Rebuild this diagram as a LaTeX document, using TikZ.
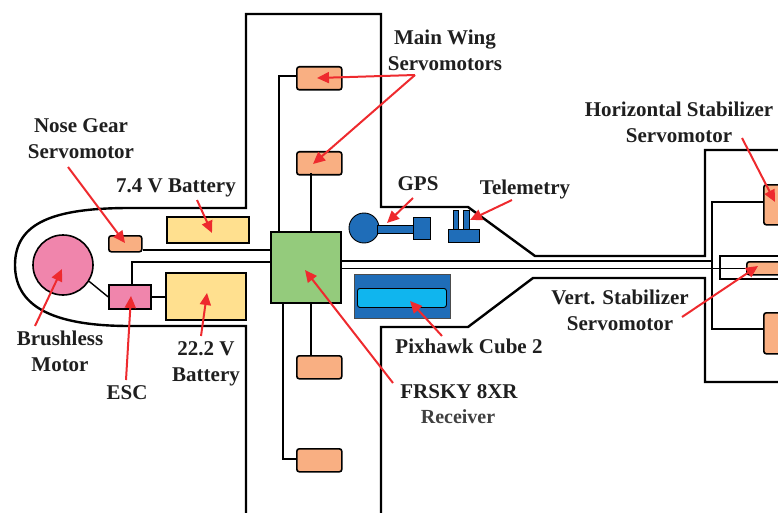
\documentclass[tikz,border=0pt]{standalone}
\usepackage{fontspec}
\setmainfont{Liberation Serif}
\usetikzlibrary{arrows.meta}
\definecolor{servo}{HTML}{F9AF82}
\definecolor{batt}{HTML}{FFE08F}
\definecolor{motor}{HTML}{F085AC}
\definecolor{board}{HTML}{94CB7C}
\definecolor{unit}{HTML}{1F6DB8}
\definecolor{cube}{HTML}{10B5EE}
\definecolor{pointer}{HTML}{EE2A2E}
\tikzset{
	box/.style={draw=black, line width=1.6pt, inner sep=0pt, anchor=north west},
	servobox/.style={box, fill=servo, rounded corners=2.5pt},
	bluebox/.style={box, fill=unit, line width=0.9pt},
	label/.style={font=\bfseries\fontsize{21}{26}\selectfont, align=center, text=black!88},
	wire/.style={line width=1.4pt},
	hull/.style={line width=2.4pt},
	pointerline/.style={draw=pointer, line width=2pt, -{Triangle[length=12pt, width=11pt]}}
}
\begin{document}
\begin{tikzpicture}[x=1pt, y=-1pt]
	\useasboundingbox (0, 0) rectangle (778, 513);
	\draw[hull] (246, 513) -- (246, 326) -- (130, 326) .. controls (60, 326) and (15, 310) .. (15, 265) .. controls (15, 222) and (55, 208) .. (130, 208) -- (246, 208) -- (246, 14) -- (381, 14) -- (381, 207) -- (468, 207) -- (535, 256) -- (705, 256) -- (705, 150) -- (778, 150);
	\draw[hull] (381, 513) -- (381, 327) -- (468, 327) -- (533, 278) -- (705, 278) -- (705, 382) -- (778, 382);
	\draw[hull] (778, 256) -- (720, 256) -- (720, 279) -- (778, 279);

	\node[box, fill=board, minimum width=70pt, minimum height=71pt] (fc) at (270, 231) {};
	\node[servobox, minimum width=45pt, minimum height=23pt] (wing1) at (296, 66) {};
	\node[servobox, minimum width=45pt, minimum height=23pt] (wing2) at (296, 151) {};
	\node[servobox, minimum width=45pt, minimum height=23pt] (wing3) at (296, 355) {};
	\node[servobox, minimum width=45pt, minimum height=23pt] (wing4) at (296, 448) {};
	\node[servobox, minimum width=33pt, minimum height=16pt] (nose) at (108, 235) {};
	\node[box, fill=batt, minimum width=82pt, minimum height=26pt] (batt1) at (166, 216) {};
	\node[box, fill=batt, minimum width=80pt, minimum height=47pt] (batt2) at (165, 272) {};
	\node[box, fill=motor, minimum width=42pt, minimum height=24pt] (esc) at (108, 284) {};
	\node[draw=black, line width=1.6pt, circle, fill=motor, minimum size=60pt, inner sep=0pt] (prop) at (63, 265) {};
	\node[servobox, minimum width=40pt, minimum height=40pt] (hstab1) at (763, 184) {};
	\node[servobox, minimum width=40pt, minimum height=41pt] (hstab2) at (763, 312) {};
	\node[servobox, minimum width=40pt, minimum height=13pt] (vstab) at (746, 261) {};

	\coordinate (wirea) at (279, 76);
	\coordinate (wireb) at (311, 173);
	\coordinate (wirec) at (311, 355);
	\coordinate (wired) at (283, 459);
	\coordinate (wiree) at (132, 284);
	\coordinate (wiref) at (132, 262);
	\coordinate (stabtop) at (712, 202);
	\coordinate (stabbot) at (712, 329);
	\coordinate (stabbus) at (712, 261);
	\draw[wire] (wirea -| wing1.west) -- (wirea) -- (wirea |- fc.north);
	\draw[wire] (wireb) -- (wireb |- fc.north);
	\draw[wire] (wirec) -- (wirec |- fc.south);
	\draw[wire] (wired -| wing4.west) -- (wired) -- (wired |- fc.south);
	\draw[wire] ([yshift=-6pt]nose.east) -- ([yshift=-6pt]nose.east -| fc.west);
	\draw[wire] (wiree) -- (wiref) -- (wiref -| fc.west);
	\draw[wire] (esc.east) -- (esc.east -| batt2.west);
	\draw[wire] (prop.-32) -- (esc.west);
	\draw[wire] (stabbus -| fc.east) -- (stabbus);
	\draw[wire] (vstab.west -| fc.east) -- (vstab.west);
	\draw[wire] (stabtop -| hstab1.west) -- (stabtop) -- (stabbot) -- (stabbot -| hstab2.west);

	\node[box, fill=unit, minimum width=96pt, minimum height=44pt, line width=0.8pt, draw=black!70] (fmu) at (354, 274) {};
	\node[box, fill=cube, rounded corners=2.5pt, line width=0.9pt, minimum width=89pt, minimum height=19pt] (cubecore) at (357, 288) {};
	\node[draw=black, line width=0.9pt, circle, fill=unit, minimum size=30pt, inner sep=0pt] (gpsdisc) at (364, 228) {};
	\node[bluebox, minimum width=17pt, minimum height=22pt] (gpshead) at (413, 217) {};
	\node[bluebox, minimum width=36pt, minimum height=8pt] (gpsrod) at (377, 225) {};
	\node[bluebox, minimum width=5pt, minimum height=19pt] (prong1) at (453, 210) {};
	\node[bluebox, minimum width=6pt, minimum height=19pt] (prong2) at (463, 210) {};
	\node[bluebox, minimum width=31pt, minimum height=13pt] (radio) at (448, 229) {};

	\node[label] (lwing) at (445, 50) {Main Wing\\Servomotors};
	\node[label] (lnose) at (81, 139) {Nose Gear\\Servomotor};
	\node[label] (lbatt1) at (176, 188) {7.4 V Battery};
	\node[label] (lgps) at (418, 184) {GPS};
	\node[label] (ltele) at (525, 189) {Telemetry};
	\node[label] (lhstab) at (679, 122) {Horizontal Stabilizer\\Servomotor};
	\node[label] (lvstab) at (620, 310) {Vert. Stabilizer\\Servomotor};
	\node[label] (lmotor) at (60, 351) {Brushless\\Motor};
	\node[label] (lesc) at (127, 393) {ESC};
	\node[label] (lbatt2) at (206, 364) {22.2 V\\Battery};
	\node[label] (lfmu) at (469, 346) {Pixhawk Cube 2};
	\node[label] (lrx) at (459, 392) {FRSKY 8XR};
	\node[label, text=black!75, font=\bfseries\fontsize{20}{24}\selectfont] (lrx2) at (458, 417) {Receiver};

	\coordinate (pwing) at (415, 75);
	\coordinate (twinga) at (317, 78);
	\coordinate (twingb) at (313, 164);
	\coordinate (pnose) at (68, 167);
	\coordinate (tnose) at (125, 243);
	\coordinate (pbatta) at (197, 200);
	\coordinate (tbatta) at (212, 233);
	\coordinate (pmotor) at (35, 326);
	\coordinate (tmotor) at (62, 269);
	\coordinate (pesc) at (126, 380);
	\coordinate (tesc) at (131, 296);
	\coordinate (pbattb) at (201, 336);
	\coordinate (tbattb) at (207, 293);
	\coordinate (pgps) at (413, 198);
	\coordinate (tgps) at (387, 223);
	\coordinate (ptele) at (512, 200);
	\coordinate (ttele) at (470, 220);
	\coordinate (pfmu) at (442, 336);
	\coordinate (tfmu) at (410, 301);
	\coordinate (prx) at (393, 383);
	\coordinate (trx) at (305, 270);
	\coordinate (phstab) at (742, 138);
	\coordinate (thstab) at (775, 202);
	\coordinate (pvstab) at (682, 317);
	\coordinate (tvstab) at (758, 266);
	\draw[pointerline] (pwing) -- (twinga);
	\draw[pointerline] (pwing) -- (twingb);
	\draw[pointerline] (pnose) -- (tnose);
	\draw[pointerline] (pbatta) -- (tbatta);
	\draw[pointerline] (pmotor) -- (tmotor);
	\draw[pointerline] (pesc) -- (tesc);
	\draw[pointerline] (pbattb) -- (tbattb);
	\draw[pointerline] (pgps) -- (tgps);
	\draw[pointerline] (ptele) -- (ttele);
	\draw[pointerline] (pfmu) -- (tfmu);
	\draw[pointerline] (prx) -- (trx);
	\draw[pointerline] (phstab) -- (thstab);
	\draw[pointerline] (pvstab) -- (tvstab);
\end{tikzpicture}
\end{document}
